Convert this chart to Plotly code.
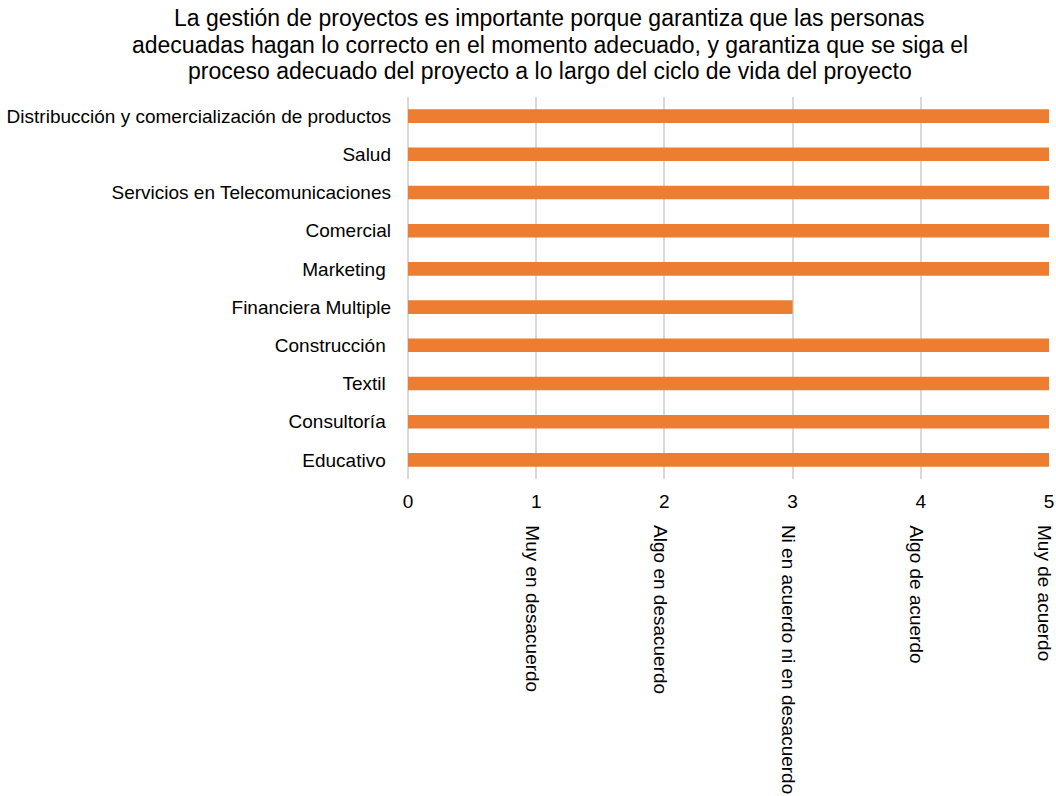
import plotly.graph_objects as go

# Sectors (top to bottom) and their agreement score
sectores = [
    "Distribucción y comercialización de productos",
    "Salud",
    "Servicios en Telecomunicaciones",
    "Comercial",
    "Marketing\u00a0",
    "Financiera Multiple",
    "Construcción\u00a0",
    "Textil\u00a0",
    "Consultoría\u00a0",
    "Educativo\u00a0",
]
puntaje = [5, 5, 5, 5, 5, 3, 5, 5, 5, 5]

# Likert scale tick values and their descriptions
escala_valores = [0, 1, 2, 3, 4, 5]
escala_textos = [
    "Muy en desacuerdo",
    "Algo en desacuerdo",
    "Ni en acuerdo ni en desacuerdo",
    "Algo de acuerdo",
    "Muy de acuerdo",
]

titulo_lineas = [
    "La gestión de proyectos es importante porque garantiza que las personas",
    "adecuadas hagan lo correcto en el momento adecuado, y garantiza que se siga el",
    "proceso adecuado del proyecto a lo largo del ciclo de vida del proyecto",
]

FONT = "Liberation Sans, Arial, sans-serif"
TXT = 19

fig = go.Figure(
    go.Bar(
        x=puntaje,
        y=sectores,
        orientation="h",
        marker=dict(color="#ED7D31", line=dict(width=0)),
    )
)

# Title, one line per annotation for tight line spacing
for i, linea in enumerate(titulo_lineas):
    fig.add_annotation(
        x=0.2215, xref="paper", y=1, yref="paper",
        text=linea, showarrow=False,
        xanchor="center", yanchor="middle", yshift=79 - 26.5 * i,
        font=dict(family=FONT, size=23, color="#000000"),
    )

# Rotated descriptions under ticks 1..5
for val, txt in zip(escala_valores[1:], escala_textos):
    fig.add_annotation(
        x=val, xref="x", y=0, yref="paper",
        text=txt, textangle=90, showarrow=False,
        xanchor="center", yanchor="top", yshift=-44, xshift=-4,
        font=dict(family=FONT, size=TXT, color="#000000"),
    )

fig.update_layout(
    width=1056, height=796,
    paper_bgcolor="white", plot_bgcolor="white",
    margin=dict(l=408, r=7, t=97, b=317),
    bargap=0.645,
    showlegend=False,
    font=dict(family=FONT, size=TXT, color="#000000"),
    xaxis=dict(
        range=[0, 5], tickvals=escala_valores, ticks="",
        showgrid=True, gridcolor="#D9D9D9", gridwidth=1.5,
        zeroline=True, zerolinecolor="#D9D9D9", zerolinewidth=1.5,
        showline=False, ticklabelstandoff=9, automargin=False,
        tickfont=dict(family=FONT, size=TXT, color="#000000"),
    ),
    yaxis=dict(
        autorange="reversed", showgrid=False, showline=False, ticks="",
        ticklabelstandoff=16, automargin=False,
        tickfont=dict(family=FONT, size=TXT, color="#000000"),
    ),
)

fig.write_html("out.html")
